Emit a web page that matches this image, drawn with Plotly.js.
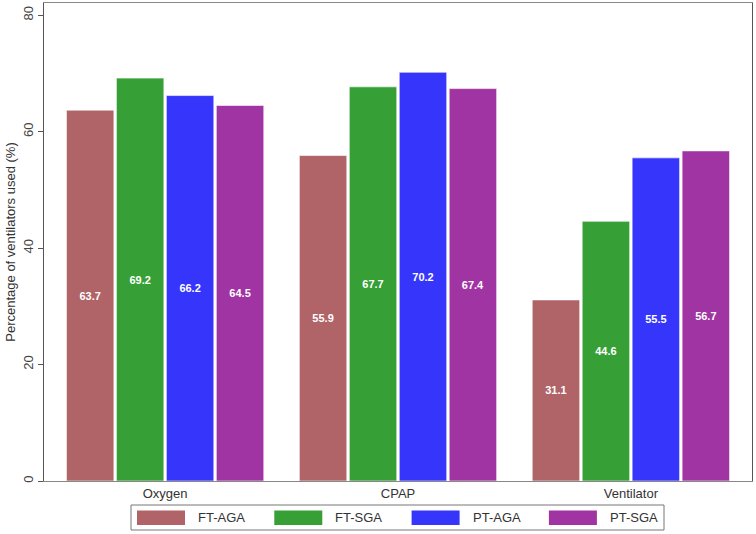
<!DOCTYPE html>
<html>
<head>
<meta charset="utf-8">
<script src="https://cdn.plot.ly/plotly-3.0.1.min.js"></script>
<style>
  html, body { margin: 0; padding: 0; background: #fff; }
  #chart { width: 756px; height: 534px; }
</style>
</head>
<body>
<div id="chart"></div>
<script>
// ventilator support by gestational group
var categories = ["Oxygen", "CPAP", "Ventilator"];
var groups = ["FT-AGA", "FT-SGA", "PT-AGA", "PT-SGA"];
var ftAga = [63.7, 55.9, 31.1];
var ftSga = [69.2, 67.7, 44.6];
var ptAga = [66.2, 70.2, 55.5];
var ptSga = [64.5, 67.4, 56.7];
var yTicks = [0, 20, 40, 60, 80];

var series = [ftAga, ftSga, ptAga, ptSga];
var colors = ["#b06468", "#36a036", "#3535fb", "#a034a2"];

var data = series.map(function (vals, i) {
  return {
    type: "bar",
    name: groups[i],
    x: categories,
    y: vals,
    text: vals.map(function (v) { return v.toFixed(1); }),
    textposition: "inside",
    insidetextanchor: "middle",
    textangle: 0,
    textfont: { color: "#fff", size: 11, family: "Arial, Liberation Sans, sans-serif", weight: "bold" },
    marker: { color: colors[i], line: { color: "#fff", width: 0.6 } },
    showlegend: false,
    hoverinfo: "skip"
  };
});

// plot box in pixels, used for the hand built legend
var L = 44, R = 4, T = 3, B = 53, W = 756, H = 534;
var pw = W - L - R, ph = H - T - B;
function px(x) { return (x - L) / pw; }
function py(y) { return (H - B - y) / ph; }

var shapes = [{
  type: "rect", xref: "paper", yref: "paper",
  x0: px(131), x1: px(664), y0: py(505), y1: py(530),
  line: { color: "#777", width: 1 }, fillcolor: "#fff"
}];
var annotations = [];
groups.forEach(function (g, i) {
  var sx = 137 + i * 137.3;
  shapes.push({
    type: "rect", xref: "paper", yref: "paper",
    x0: px(sx), x1: px(sx + 48), y0: py(510.5), y1: py(525),
    line: { width: 0 }, fillcolor: colors[i]
  });
  annotations.push({
    xref: "paper", yref: "paper", x: px(sx + 59), y: py(517.5),
    xanchor: "left", yanchor: "middle", showarrow: false,
    text: g, font: { size: 13, color: "#333", family: "Arial, Liberation Sans, sans-serif" }
  });
});

var layout = {
  width: W, height: H,
  margin: { l: L, r: R, t: T, b: B, pad: 0 },
  paper_bgcolor: "#fff",
  plot_bgcolor: "#fff",
  font: { family: "Arial, Liberation Sans, sans-serif", color: "#333", size: 13 },
  barmode: "group",
  bargap: 0.142,
  bargroupgap: 0.05,
  xaxis: {
    range: [-0.52, 2.52],
    showline: true, linecolor: "#888", linewidth: 1, mirror: true,
    ticks: "", showgrid: false, zeroline: false,
    tickfont: { size: 13, color: "#333" }
  },
  yaxis: {
    range: [0, 82.1],
    tickvals: yTicks,
    tickangle: -90,
    ticks: "outside", ticklen: 5, tickcolor: "#555",
    showline: true, linecolor: "#555", linewidth: 1, mirror: true,
    showgrid: false, zeroline: false,
    tickfont: { size: 13, color: "#444" },
    title: { text: "Percentage of ventilators used (%)", font: { size: 13, color: "#333" }, standoff: 2 }
  },
  shapes: shapes,
  annotations: annotations
};

Plotly.newPlot("chart", data, layout, { displayModeBar: false, staticPlot: true });
</script>
</body>
</html>
